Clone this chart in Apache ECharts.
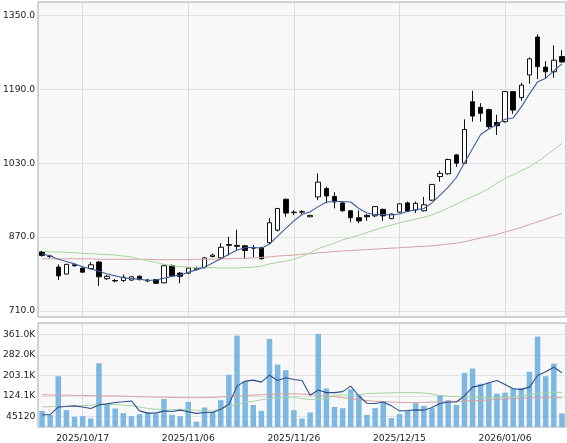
<!DOCTYPE html>
<html><head><meta charset="utf-8">
<script src="https://cdn.jsdelivr.net/npm/echarts@6/dist/echarts.min.js"></script>
<style>html,body{margin:0;padding:0;background:#fff}#c{width:567px;height:443px}</style>
</head><body><div id="c"></div><script>
const DATES = ['2025/10/09','2025/10/10','2025/10/14','2025/10/15','2025/10/16','2025/10/17','2025/10/20','2025/10/21','2025/10/22','2025/10/23',
'2025/10/24','2025/10/27','2025/10/28','2025/10/29','2025/10/30','2025/10/31','2025/11/04','2025/11/05','2025/11/06','2025/11/07',
'2025/11/10','2025/11/11','2025/11/12','2025/11/13','2025/11/14','2025/11/17','2025/11/18','2025/11/19','2025/11/20','2025/11/21',
'2025/11/25','2025/11/26','2025/11/27','2025/11/28','2025/12/01','2025/12/02','2025/12/03','2025/12/04','2025/12/05','2025/12/08',
'2025/12/09','2025/12/10','2025/12/11','2025/12/12','2025/12/15','2025/12/16','2025/12/17','2025/12/18','2025/12/19','2025/12/22',
'2025/12/23','2025/12/24','2025/12/25','2025/12/26','2025/12/29','2025/12/30','2026/01/05','2026/01/06','2026/01/07','2026/01/08',
'2026/01/09','2026/01/13','2026/01/14','2026/01/15','2026/01/16'];
const LABEL_DATES = ['2025/10/17','2025/11/06','2025/11/26','2025/12/15','2026/01/06'];

const OPEN  = [838,828,805,790,810,803,802,816,780,776, 776,777,785,777,778,771,808,792,792,800, 804,828,825,852,852,851,846,847,858,885, 952,923,924,914,957,975,958,944,927,912, 917,916,930,910,924,944,929,927,950,1001, 1007,1048,1030,1163,1151,1146,1118,1120,1185,1172, 1221,1303,1238,1228,1261];
const CLOSE = [830,829,786,811,808,794,810,784,785,775, 783,784,778,775,770,808,786,785,803,803, 825,831,848,854,850,841,847,823,901,932, 922,924,925,917,989,959,946,927,912,905, 914,936,916,920,942,926,943,940,984,1008, 1038,1030,1103,1132,1138,1109,1111,1185,1145,1199, 1256,1239,1228,1253,1249];
const LOW   = [828,824,777,789,806,793,800,764,777,772, 773,775,776,772,769,770,785,770,790,798, 802,826,824,830,840,822,827,822,855,882, 914,918,920,913,950,943,932,925,902,900, 905,913,905,909,922,924,922,925,948,990, 1005,1022,1028,1120,1120,1105,1091,1118,1137,1165, 1202,1212,1214,1215,1248];
const HIGH  = [840,832,811,812,813,804,816,818,788,779, 789,786,787,779,779,809,811,794,805,806, 827,834,857,871,886,853,853,849,911,933, 953,928,928,918,1008,979,967,945,928,928, 920,937,932,921,943,947,947,957,985,1014, 1040,1050,1125,1187,1160,1148,1135,1186,1186,1204, 1259,1309,1251,1285,1275];

const MA5  = [834,829,822,817,812,806,801,796,790,786, 782,780,779,776,777,781,785,788,794,799, 805,814,823,833,842,847,848,846,855,872, 889,905,919,925,936,946,947,947,946,932, 922,919,919,918,920,926,929,932,944,961, 978,999,1031,1062,1092,1104,1114,1125,1128,1152, 1180,1206,1214,1230,1245];
const MA25 = [839,838,838,837,836,835,834,833,832,831, 829,827,822,819,815,811,808,806,805,804, 804,804,803,803,803,804,805,807,812,815, 818,822,828,836,845,851,857,864,869,874, 880,886,891,896,901,905,909,913,918,925, 933,941,950,958,966,975,987,997,1005,1014, 1022,1033,1046,1059,1073];
const MA75 = [823,823,823,823,823,823,823,822,822,822, 822,822,822,822,821,821,821,821,821,822, 822,822,823,823,824,824,825,826,827,829, 830,831,833,834,836,837,839,840,841,842, 843,844,845,846,847,848,849,850,851,853, 855,857,860,864,868,872,876,881,886,891, 897,903,909,915,921];

const VOLUME = [62800,46200,197600,65500,39700,42400,33400,247700,88600,72000, 54000,42400,50000,56500,50000,109000,47400,42400,97500,20500, 75800,59000,104000,203000,355600,178400,86000,62800,342800,242700, 220800,65500,33400,56500,362000,150200,78300,73200,146400,123300, 47400,73200,99000,34700,50000,62800,92500,82200,73200,124500, 104000,86000,210700,227300,168300,172200,129800,133700,150200,150200, 214600,351700,197600,246500,52700];
const VOL_MA5 = [47400,48000,78300,80000,82200,78000,72000,86000,90000,95000, 98000,101400,62800,54000,54000,62800,60400,65500,59000,53000, 56500,56500,69300,88600,159000,178400,182200,174500,201500,181000, 191400,185000,181000,123300,143700,133700,133700,137500,159000,120600, 92500,91300,97500,82200,62800,64000,66700,65500,75800,91300, 97500,97500,120600,155200,161800,172200,181000,165600,149000,146400, 155200,200300,214600,232300,210700];
const VOL_MA25 = [78000,79000,80000,81000,82000,83000,85000,88000,88000,87000, 85000,83000,78000,72000,69000,67000,67000,69000,68000,65000, 63000,63000,70000,80000,88000,96000,100000,106000,111000,114000, 116000,116000,110000,107000,108000,110000,125000,125000,125000,126000, 130000,131000,132000,133000,134000,134000,134000,132000,128000,122000, 120000,118000,117000,116000,114000,114000,115000,116000,117000,121000, 127000,131000,134000,136000,134000];
const VOL_MA75 = [125000,125000,124000,124000,123000,123000,122000,122000,121000,121000, 120000,119000,118000,117000,116000,116000,115000,114000,114000,114000, 114000,115000,117000,119000,121000,122000,124000,125000,127000,128000, 129000,129000,128000,126000,123000,121000,118000,114000,110000,106000, 103000,100000,99000,97000,96000,95000,95000,96000,97000,98000, 99000,100000,101000,102000,103000,105000,107000,109000,110000,111000, 113000,114000,114000,114000,114000];

const PRICE_TICK_LABELS = ['710.0','870.0','1030.0','1190.0','1350.0'];
const PRICE_TICKS = [710,870,1030,1190,1350];
const VOL_TICK_LABELS = ['45120','124.1K','203.1K','282.0K','361.0K'];
const VOL_TICKS = [45120,124090,203060,282030,361000];

// ---- layout ----
const L = 38, R = 1;
const P_TOP = 2, P_BOT = 317, P_MIN = 697, P_MAX = 1379;
const V_TOP = 323, V_BOT = 428, V_MIN = 0, V_MAX = 404500;
function sub(top, bot, min, max, lo, hi) {
  const s = (bot - top) / (max - min);
  return { top: top + (max - hi) * s, height: (hi - lo) * s };
}
const pSub = sub(P_TOP, P_BOT, P_MIN, P_MAX, PRICE_TICKS[0], PRICE_TICKS[PRICE_TICKS.length - 1]);
const vSub = sub(V_TOP, V_BOT, V_MIN, V_MAX, VOL_TICKS[0], VOL_TICKS[VOL_TICKS.length - 1]);

const FONT = { fontFamily: 'DejaVu Sans', fontSize: 9.2, color: '#222' };
const GRID_LINE = { color: '#e2e2e2', width: 1 };
const showDate = (idx, val) => LABEL_DATES.indexOf(val) >= 0;

const frameX = (gi, labels) => ({
  type: 'category', gridIndex: gi, data: DATES, boundaryGap: true,
  axisLine: { show: false }, axisTick: { show: false },
  axisLabel: labels ? Object.assign({ show: true, interval: showDate, margin: 7 }, FONT) : { show: false },
  splitLine: { show: true, interval: showDate, alignWithLabel: true, lineStyle: { color: '#dcdcdc', width: 1 } }
});
const overlayY = (gi, labels) => ({
  type: 'value', gridIndex: gi, min: 0, max: labels.length - 1, interval: 1,
  axisLine: { show: false }, axisTick: { show: false },
  axisLabel: Object.assign({ margin: 4, formatter: v => labels[v] }, FONT),
  splitLine: { show: true, lineStyle: GRID_LINE }
});

const option = {
  animation: false,
  backgroundColor: '#fff',
  grid: [
    { left: L, right: R, top: P_TOP, height: P_BOT - P_TOP, show: true, backgroundColor: '#f8f8f8', borderColor: '#a8a8a8', borderWidth: 1 },
    { left: L, right: R, top: pSub.top, height: pSub.height },
    { left: L, right: R, top: V_TOP, height: V_BOT - V_TOP, show: true, backgroundColor: '#f8f8f8', borderColor: '#a8a8a8', borderWidth: 1 },
    { left: L, right: R, top: vSub.top, height: vSub.height }
  ],
  xAxis: [
    frameX(0, false),
    { type: 'value', gridIndex: 1, min: 0, max: 1, show: false },
    frameX(2, true),
    { type: 'value', gridIndex: 3, min: 0, max: 1, show: false }
  ],
  yAxis: [
    { type: 'value', gridIndex: 0, min: P_MIN, max: P_MAX, show: false, splitLine: { show: false } },
    overlayY(1, PRICE_TICK_LABELS),
    { type: 'value', gridIndex: 2, min: V_MIN, max: V_MAX, show: false, splitLine: { show: false } },
    overlayY(3, VOL_TICK_LABELS)
  ],
  series: [
    { type: 'candlestick', xAxisIndex: 0, yAxisIndex: 0, barWidth: 5, z: 3,
      data: DATES.map((d, i) => [OPEN[i], CLOSE[i], LOW[i], HIGH[i]]),
      itemStyle: { color: '#ffffff', color0: '#000000', borderColor: '#111', borderColor0: '#111', borderWidth: 1 } },
    { type: 'line', xAxisIndex: 0, yAxisIndex: 0, data: MA75, showSymbol: false, z: 4, lineStyle: { color: '#d4a4a4', width: 1 } },
    { type: 'line', xAxisIndex: 0, yAxisIndex: 0, data: MA25, showSymbol: false, z: 4, lineStyle: { color: '#a6d4a0', width: 1 } },
    { type: 'line', xAxisIndex: 0, yAxisIndex: 0, data: MA5, showSymbol: false, z: 5, lineStyle: { color: '#3e5f9e', width: 1.1 } },
    { type: 'bar', xAxisIndex: 2, yAxisIndex: 2, data: VOLUME, barWidth: 5.5, z: 3, itemStyle: { color: '#7db8e2' } },
    { type: 'line', xAxisIndex: 2, yAxisIndex: 2, data: VOL_MA75, showSymbol: false, z: 4, lineStyle: { color: '#d4a4a4', width: 1 } },
    { type: 'line', xAxisIndex: 2, yAxisIndex: 2, data: VOL_MA25, showSymbol: false, z: 4, lineStyle: { color: '#a6d4a0', width: 1 } },
    { type: 'line', xAxisIndex: 2, yAxisIndex: 2, data: VOL_MA5, showSymbol: false, z: 5, lineStyle: { color: '#2f4f8c', width: 1.1 } }
  ]
};
const chart = echarts.init(document.getElementById('c'), null, { renderer: 'canvas' });
chart.setOption(option);
</script></body></html>
